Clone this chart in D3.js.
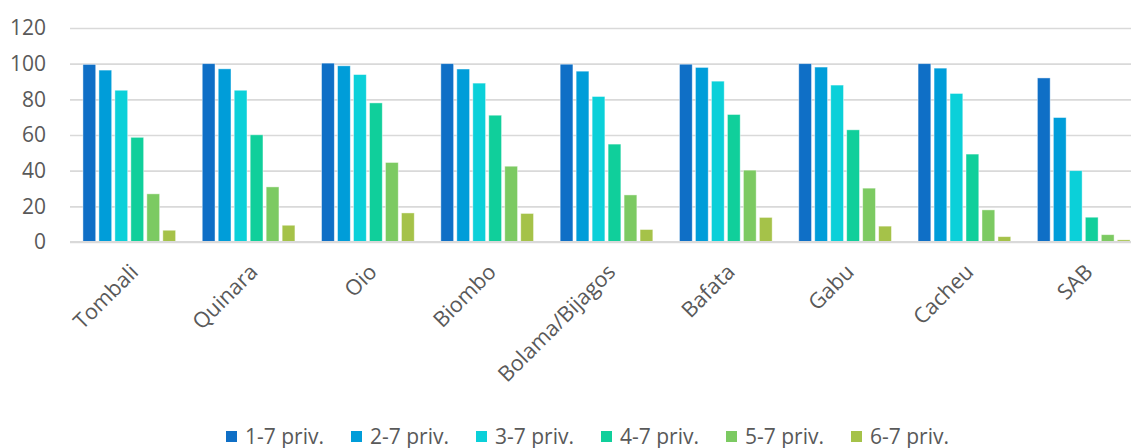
<!DOCTYPE html>
<html>
<head>
<meta charset="utf-8">
<script src="https://cdn.jsdelivr.net/npm/d3@7"></script>
<style>
  body { margin: 0; background: #fff; }
  text { font-family: "Open Sans", sans-serif; fill: #595959; }
</style>
</head>
<body>
<svg id="chart" width="1131" height="448"></svg>
<script>
// regions along the x axis
const regions = ['Tombali', 'Quinara', 'Oio', 'Biombo', 'Bolama/Bijagos', 'Bafata', 'Gabu', 'Cacheu', 'SAB']

const seriesNames = ['1-7 priv.', '2-7 priv.', '3-7 priv.', '4-7 priv.', '5-7 priv.', '6-7 priv.']

// one array per series, same order as regions
const priv17 = [99.6, 100, 100.3, 100, 99.7, 99.7, 100, 100, 92]
const priv27 = [96.4, 97.1, 98.8, 97, 95.8, 97.9, 98.1, 97.5, 69.8]
const priv37 = [85.1, 85.1, 93.9, 89.1, 81.6, 90.2, 88, 83.3, 40]
const priv47 = [58.7, 60.1, 78, 71.1, 54.9, 71.5, 62.9, 49.3, 13.9]
const priv57 = [27, 30.9, 44.6, 42.5, 26.4, 40.3, 30.2, 18, 4.1]
const priv67 = [6.6, 9.4, 16.3, 16, 7, 13.8, 8.9, 3, 1.2]

const yTicks = [0, 20, 40, 60, 80, 100, 120]

const colors = ['#0F6FC6', '#009DD9', '#0BD0D9', '#10CF9B', '#7CCA62', '#A5C249']

const seriesValues = [priv17, priv27, priv37, priv47, priv57, priv67]

const svg = d3.select('#chart')

const y = d3.scaleLinear()
    .domain([0, 120])
    .range([242, 28])

const x0 = d3.scaleBand()
    .domain(regions)
    .range([71, 1142])
    .paddingInner(0.223)
    .paddingOuter(0.1)

const x1 = d3.scaleBand()
    .domain(seriesNames)
    .range([0, x0.bandwidth()])
    .paddingInner(0.2)
    .paddingOuter(0)

// gridlines + y labels
const yAxis = d3.axisLeft(y)
    .tickValues(yTicks)
    .tickSize(-(1142 - 70))
    .tickPadding(24)

svg.append('g')
    .attr('class', 'y-axis')
    .attr('transform', 'translate(70,0)')
    .call(yAxis)
    .call(g => g.select('.domain').remove())
    .call(g => g.selectAll('.tick line')
        .attr('stroke', '#d9d9d9')
        .attr('stroke-width', 1.6))
    .call(g => g.selectAll('.tick text')
        .attr('font-size', 21)
        .attr('fill', '#595959'))

// bars
const rows = regions.map((r, i) => ({
    region: r,
    values: seriesNames.map((s, j) => ({ key: s, value: seriesValues[j][i], color: colors[j] }))
}))

const groups = svg.append('g')
    .selectAll('g.region')
    .data(rows)
    .enter().append('g')
    .attr('class', 'region')
    .attr('transform', d => `translate(${x0(d.region)},0)`)

groups.selectAll('rect')
    .data(d => d.values)
    .enter().append('rect')
    .attr('x', d => x1(d.key))
    .attr('y', d => y(d.value))
    .attr('width', x1.bandwidth())
    .attr('height', d => y(0) - y(d.value))
    .attr('fill', d => d.color)
    .attr('stroke', 'rgba(255,255,255,0.55)')
    .attr('stroke-width', 0.8)

// x axis line + rotated labels
const xAxis = d3.axisBottom(x0).tickSize(0).tickPadding(0)

svg.append('g')
    .attr('class', 'x-axis')
    .attr('transform', `translate(0,${y(0)})`)
    .call(xAxis)
    .call(g => g.select('.domain')
        .attr('d', 'M70,0H1142')
        .attr('stroke', '#d9d9d9')
        .attr('stroke-width', 2))
    .call(g => g.selectAll('.tick text')
        .attr('font-size', 21.5)
        .attr('fill', '#595959')
        .attr('text-anchor', 'end')
        .attr('dy', '0.35em')
        .attr('transform', 'translate(5,26) rotate(-45)'))

// legend
const legend = svg.append('g')
    .attr('class', 'legend')
    .selectAll('g')
    .data(seriesNames)
    .enter().append('g')
    .attr('transform', (d, i) => `translate(${226 + i * 125},431)`)

legend.append('rect')
    .attr('width', 11)
    .attr('height', 11)
    .attr('fill', (d, i) => colors[i])

legend.append('text')
    .attr('x', 19)
    .attr('y', 12.5)
    .attr('font-size', 21)
    .text(d => d)
</script>
</body>
</html>
